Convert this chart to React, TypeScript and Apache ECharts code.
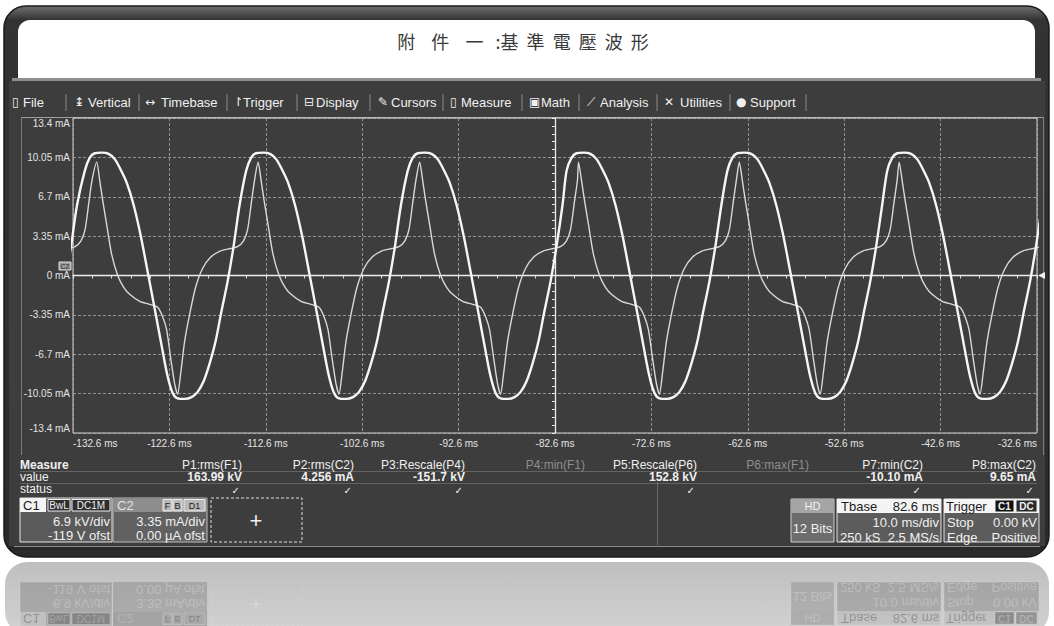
import React, { useEffect, useRef } from "react";
import * as echarts from "echarts";

// ---------------- data ----------------
const titleText = "附    件    一   :基  準  電  壓  波  形";

const xTickLabels = [
  "-132.6 ms", "-122.6 ms", "-112.6 ms", "-102.6 ms", "-92.6 ms", "-82.6 ms",
  "-72.6 ms", "-62.6 ms", "-52.6 ms", "-42.6 ms", "-32.6 ms",
];
const yTickLabels = [
  "-13.4 mA", "-10.05 mA", "-6.7 mA", "-3.35 mA", "0 mA", "3.35 mA", "6.7 mA", "10.05 mA", "13.4 mA",
];
const TRIGGER_MS = -82.6; // centre of the screen (Tbase)
const DIV_MS = 10;
const DIV_MA = 3.35;

// times (ms) of the sharp current peaks
const cyclePeakMs = [-147.0, -130.14, -113.4, -96.64, -80.16, -63.48, -46.9];

// thin trace C2: one cycle, offsets (ms) from its peak and values (mA)
const c2OffsetMs = [0, 0.31, 0.62, 1.04, 1.55, 2.18, 2.8, 3.42, 4.46, 5.49, 6.32, 6.84, 7.25, 7.67, 8.08, 8.39, 8.7, 9.12, 9.64, 10.26, 10.98, 11.81, 12.85, 13.89, 14.61, 15.23, 15.65, 16.06, 16.37];
const c2ValueMa = [9.65, 8.1, 6.4, 4.3, 1.8, 0.0, -1.0, -1.6, -2.2, -2.45, -2.7, -3.5, -4.6, -7.0, -9.2, -10.1, -8.4, -5.6, -3.3, -1.0, 0.6, 1.55, 2.1, 2.3, 2.45, 2.95, 3.9, 6.3, 8.1];

// thick trace F1 (on the mA grid): offsets (ms) from the C2 peak and screen values
const f1OffsetMs = [-1.24, -0.73, -0.21, 0.52, 1.24, 1.87, 2.49, 3.11, 3.83, 4.56, 5.29, 6.01, 6.74, 7.36, 7.88, 8.39, 9.12, 9.84, 10.47, 11.09, 11.71, 12.33, 12.95, 13.58, 14.2, 14.82];
const f1ValueMa = [8.9, 10.0, 10.4, 10.45, 10.35, 9.9, 9.0, 7.9, 6.0, 3.4, 0.3, -2.8, -6.0, -8.6, -10.0, -10.45, -10.5, -10.35, -9.9, -9.0, -7.5, -5.6, -3.0, -0.5, 2.5, 6.0];

const menuLabels = ["File", "Vertical", "Timebase", "Trigger", "Display", "Cursors", "Measure", "Math", "Analysis", "Utilities", "Support"];
const menuIcons = ["▯", "↨", "↔", "↾", "⊟", "✎", "▯", "▣", "⟋", "✕", "●"];

const measureHeaders = ["P1:rms(F1)", "P2:rms(C2)", "P3:Rescale(P4)", "P4:min(F1)", "P5:Rescale(P6)", "P6:max(F1)", "P7:min(C2)", "P8:max(C2)"];
const measureValues = ["163.99 kV", "4.256 mA", "-151.7 kV", "", "152.8 kV", "", "-10.10 mA", "9.65 mA"];
const measureActive = [true, true, true, false, true, false, true, true];

const c1Info = ["C1", "BwL", "DC1M", "6.9 kV/div", "-119 V ofst"];
const c2Info = ["C2", "F", "B", "D1", "3.35 mA/div", "0.00 µA ofst"];
const hdInfo = ["HD", "12 Bits"];
const tbaseInfo = ["Tbase", "82.6 ms", "10.0 ms/div", "250 kS", "2.5 MS/s"];
const triggerInfo = ["Trigger", "C1", "DC", "Stop", "0.00 kV", "Edge", "Positive"];

// ---------------- helpers ----------------
const FONT = '"Liberation Sans", Arial, "DejaVu Sans", sans-serif';

function buildTrace(offsets: number[], values: number[]) {
  const pts: number[][] = [];
  cyclePeakMs.forEach((p) => {
    offsets.forEach((o, i) => pts.push([p + o - TRIGGER_MS, values[i]]));
  });
  return pts;
}

function txt(text: string, x: number, y: number, o: any = {}) {
  return {
    type: "text", x, y, z: o.z ?? 10, silent: true,
    style: {
      text, fill: o.fill ?? "#f0f0f0", fontSize: o.size ?? 12, fontFamily: o.family ?? FONT,
      fontWeight: o.bold ? "bold" : "normal", textAlign: o.align ?? "left",
      textVerticalAlign: "middle", opacity: o.opacity ?? 1,
    },
  };
}
function box(x: number, y: number, w: number, h: number, o: any = {}) {
  return {
    type: "rect", z: o.z ?? 10, silent: true,
    shape: { x, y, width: w, height: h, r: o.r ?? 0 },
    style: {
      fill: o.fill ?? "none", stroke: o.stroke ?? "none", lineWidth: o.lw ?? 1,
      lineDash: o.dash, opacity: o.opacity ?? 1,
    },
  };
}
function seg(x1: number, y1: number, x2: number, y2: number, o: any = {}) {
  return {
    type: "line", z: o.z ?? 10, silent: true,
    shape: { x1, y1, x2, y2 },
    style: { stroke: o.stroke ?? "#888", lineWidth: o.lw ?? 1, opacity: o.opacity ?? 1, lineDash: o.dash },
  };
}

function bottomPanel(a: number, z: number, textFill = "#f0f0f0") {
  const o = (e: any = {}) => ({ opacity: a, z, fill: textFill, ...e });
  const dark = "#1c1c1c";
  return [
    // C1 box
    box(20, 498, 92, 44, o({ fill: "#5a5a5a", stroke: "#e6e6e6" })),
    box(20, 498, 26, 14, o({ fill: "#f4f4f4" })),
    txt(c1Info[0], 23, 505.5, o({ fill: dark, size: 13 })),
    box(48, 499.5, 22, 11.5, o({ fill: "#2e2e2e", stroke: "#f0f0f0" })),
    txt(c1Info[1], 59, 505.5, o({ size: 10, align: "center" })),
    box(72, 499.5, 38, 11.5, o({ fill: "#2e2e2e", stroke: "#f0f0f0" })),
    txt(c1Info[2], 91, 505.5, o({ size: 10, align: "center" })),
    txt(c1Info[3], 110, 521, o({ size: 13, align: "right" })),
    txt(c1Info[4], 110, 535, o({ size: 13, align: "right" })),
    // C2 box
    box(113, 498, 94, 44, o({ fill: "#616161", stroke: "#bdbdbd" })),
    box(113, 498, 94, 14, o({ fill: "#8d8d8d" })),
    txt(c2Info[0], 117, 505.5, o({ fill: "#e2e2e2", size: 13 })),
    box(163, 499.5, 9, 11.5, o({ fill: "#b8b8b8", stroke: "#eeeeee" })),
    txt(c2Info[1], 167.5, 505.5, o({ size: 9, align: "center", fill: dark })),
    box(173, 499.5, 9, 11.5, o({ fill: "#b8b8b8", stroke: "#eeeeee" })),
    txt(c2Info[2], 177.5, 505.5, o({ size: 9, align: "center", fill: dark })),
    box(184, 499.5, 21, 11.5, o({ fill: "#b8b8b8", stroke: "#eeeeee" })),
    txt(c2Info[3], 194.5, 505.5, o({ size: 9, align: "center", fill: dark })),
    txt(c2Info[4], 205, 521, o({ size: 13, align: "right" })),
    txt(c2Info[5], 205, 535, o({ size: 13, align: "right" })),
    // add box
    box(211, 498, 91, 44, o({ fill: "none", stroke: "#e0e0e0", dash: [3, 2] })),
    txt("+", 256, 520, o({ size: 22, align: "center" })),
    // HD
    box(791, 499, 43, 43, o({ fill: "#6c6c6c", stroke: "#cfcfcf" })),
    box(791, 499, 43, 14, o({ fill: "#a5a5a5" })),
    txt(hdInfo[0], 812.5, 506, o({ size: 11, align: "center" })),
    txt(hdInfo[1], 812.5, 528, o({ size: 13, align: "center" })),
    // Tbase
    box(837, 499, 104, 43, o({ fill: "#5c5c5c", stroke: "#e6e6e6" })),
    box(837, 499, 104, 14, o({ fill: "#f4f4f4" })),
    txt(tbaseInfo[0], 841, 506, o({ size: 13, fill: dark })),
    txt(tbaseInfo[1], 939, 506, o({ size: 13, fill: dark, align: "right" })),
    txt(tbaseInfo[2], 939, 522, o({ size: 13, align: "right" })),
    txt(tbaseInfo[3], 840, 537, o({ size: 13 })),
    txt(tbaseInfo[4], 939, 537, o({ size: 13, align: "right" })),
    // Trigger
    box(944, 499, 95, 43, o({ fill: "#5c5c5c", stroke: "#e6e6e6" })),
    box(944, 499, 95, 14, o({ fill: "#f4f4f4" })),
    txt(triggerInfo[0], 946, 506, o({ size: 13, fill: dark })),
    box(995, 500, 19, 12, o({ fill: "#111111", stroke: "#eeeeee" })),
    txt(triggerInfo[1], 1004.5, 506, o({ size: 10, bold: true, align: "center" })),
    box(1016, 500, 21, 12, o({ fill: "#2a2a2a", stroke: "#eeeeee" })),
    txt(triggerInfo[2], 1026.5, 506, o({ size: 10, bold: true, align: "center" })),
    txt(triggerInfo[3], 947, 522, o({ size: 13 })),
    txt(triggerInfo[4], 1037, 522, o({ size: 13, align: "right" })),
    txt(triggerInfo[5], 947, 537, o({ size: 13 })),
    txt(triggerInfo[6], 1037, 537, o({ size: 13, align: "right" })),
  ];
}

function buildGraphic() {
  const els: any[] = [];
  // frame
  els.push(box(4, 6, 1045, 551, {
    r: 22, z: -20, stroke: "#1a1a1a", lw: 1.5,
    fill: { type: "linear", x: 0, y: 0, x2: 0, y2: 1, colorStops: [
      { offset: 0, color: "#707070" }, { offset: 0.025, color: "#333333" }, { offset: 1, color: "#2a2a2a" },
    ] },
  }));
  els.push(box(18, 20, 1017, 59, { r: [12, 12, 0, 0], z: -19, fill: "#ffffff" }));
  els.push(box(12, 78, 1029, 3, { z: -19, fill: "#8f8f8f" }));
  els.push(box(9, 81, 1036, 465, { z: -19, fill: "#3d3d3d" }));
  els.push(seg(14, 546.5, 1040, 546.5, { z: -18, stroke: "#8a8a8a" }));
  // reflection
  els.push(box(5, 562, 1044, 72, {
    r: 22, z: -20,
    fill: { type: "linear", x: 0, y: 0, x2: 0, y2: 1, colorStops: [
      { offset: 0, color: "#bfbfbf" }, { offset: 1, color: "#d2d2d2" },
    ] },
  }));
  els.push({ type: "group", x: 0, y: 1124, scaleY: -1, children: bottomPanel(0.3, -15) });
  // title
  els.push(txt(titleText, 523, 41, { size: 18, fill: "#3a3a3a", align: "center", family: '"Noto Sans CJK TC", "Noto Sans CJK SC", sans-serif' }));
  // menu bar
  const iconX = [12, 74, 145, 233, 304, 378, 450, 529, 587, 664, 736];
  const textX = [23, 88, 161, 243, 316, 391, 461, 541, 600, 680, 750];
  const sepX = [66, 139, 227, 297, 370, 443, 522, 579, 657, 730, 806];
  menuLabels.forEach((m, i) => {
    els.push(txt(menuIcons[i], iconX[i], 102, { size: 12, family: '"DejaVu Sans", sans-serif' }));
    els.push(txt(m, textX[i], 102, { size: 13 }));
    els.push(seg(sepX[i], 94, sepX[i], 111, { stroke: "#8a8a8a" }));
  });
  // screen panel borders
  els.push(seg(21, 117.5, 1043, 117.5, { stroke: "#a0a0a0", z: -5 }));
  els.push(seg(21.5, 117, 21.5, 455, { stroke: "#7a7a7a", z: -5 }));
  els.push(seg(1043.5, 117, 1043.5, 455, { stroke: "#7a7a7a", z: -5 }));
  // channel marker and trigger marker
  els.push(box(59, 262, 12, 8, { fill: "#9c9c9c", stroke: "#dddddd" }));
  els.push(txt("C2", 65, 266, { size: 7, align: "center", fill: "#222" }));
  els.push({ type: "polygon", z: 10, silent: true, shape: { points: [[1038, 275.5], [1045, 272], [1045, 279]] }, style: { fill: "#f0f0f0" } });
  // measure table
  els.push(seg(20, 471.5, 1037, 471.5, { stroke: "#8a8a8a", opacity: 0.5 }));
  els.push(seg(20, 483.5, 1037, 483.5, { stroke: "#8a8a8a", opacity: 0.5 }));
  els.push(txt("Measure", 20, 465, { bold: true, size: 12 }));
  els.push(txt("value", 20, 477, { size: 12 }));
  els.push(txt("status", 20, 489, { size: 12 }));
  const colRight = [242, 354, 465, 585, 697, 809, 923, 1036];
  measureHeaders.forEach((h, i) => {
    const on = measureActive[i];
    els.push(txt(h, colRight[i], 465, { size: 12, align: "right", fill: on ? "#f0f0f0" : "#8e8e8e" }));
    if (measureValues[i]) els.push(txt(measureValues[i], colRight[i], 477, { size: 12, bold: true, align: "right" }));
    if (on) els.push(txt("✓", colRight[i] - 2, 490, { size: 10, align: "right", family: '"DejaVu Sans", sans-serif' }));
  });
  els.push(seg(657.5, 482, 657.5, 545, { stroke: "#9a9a9a", opacity: 0.5 }));
  // bottom info panel
  bottomPanel(1, 10).forEach((e) => els.push(e));
  return els;
}

function buildOption() {
  const gridLine = { show: true, lineStyle: { color: "#adadad", width: 1, type: [3, 2] as any, opacity: 0.75 } };
  const label = { color: "#e4e4e4", fontSize: 10, fontFamily: FONT };
  return {
    animation: false,
    backgroundColor: "#ffffff",
    graphic: { elements: buildGraphic() },
    grid: { left: 73, right: 17, top: 118, bottom: 193, show: true, borderColor: "#d2d2d2", borderWidth: 1, backgroundColor: "transparent" },
    xAxis: [
      {
        type: "value", min: -5 * DIV_MS, max: 5 * DIV_MS, interval: DIV_MS,
        axisLine: { show: false, onZero: false }, axisTick: { show: false },
        axisLabel: { ...label, margin: 5, alignMinLabel: "left", alignMaxLabel: "right", formatter: (v: number) => xTickLabels[Math.round(v / DIV_MS) + 5] },
        splitLine: gridLine,
      },
      {
        type: "value", min: -5 * DIV_MS, max: 5 * DIV_MS, interval: DIV_MS, position: "bottom",
        axisLine: { show: true, onZero: true, lineStyle: { color: "#ececec", width: 1.3 } },
        axisTick: { show: true, length: 3, lineStyle: { color: "#ececec" } },
        minorTick: { show: true, splitNumber: 5, length: 3, lineStyle: { color: "#e0e0e0" } },
        axisLabel: { show: false }, splitLine: { show: false },
      },
    ],
    yAxis: [
      {
        type: "value", min: -4 * DIV_MA, max: 4 * DIV_MA, interval: DIV_MA,
        axisLine: { show: false, onZero: false }, axisTick: { show: false },
        axisLabel: {
          ...label, margin: 3, verticalAlignMinLabel: "bottom", verticalAlignMaxLabel: "top",
          formatter: (v: number) => yTickLabels[Math.round(v / DIV_MA) + 4],
        },
        splitLine: gridLine,
      },
      {
        type: "value", min: -4 * DIV_MA, max: 4 * DIV_MA, interval: DIV_MA, position: "left",
        axisLine: { show: true, onZero: true, lineStyle: { color: "#ececec", width: 1.3 } },
        axisTick: { show: true, length: 3, lineStyle: { color: "#ececec" } },
        minorTick: { show: true, splitNumber: 5, length: 3, lineStyle: { color: "#e0e0e0" } },
        axisLabel: { show: false }, splitLine: { show: false },
      },
    ],
    series: [
      {
        name: "C2", type: "line", xAxisIndex: 0, yAxisIndex: 0, data: buildTrace(c2OffsetMs, c2ValueMa),
        showSymbol: false, smooth: 0.25, lineStyle: { color: "#d8d8d8", width: 1.4 }, z: 4,
      },
      {
        name: "F1", type: "line", xAxisIndex: 0, yAxisIndex: 0, data: buildTrace(f1OffsetMs, f1ValueMa),
        showSymbol: false, smooth: 0.3, lineStyle: { color: "#f6f6f6", width: 2.4 }, z: 5,
      },
    ],
  };
}

export default function App() {
  const ref = useRef<HTMLDivElement>(null);
  useEffect(() => {
    const chart = echarts.init(ref.current as HTMLDivElement, null, { renderer: "svg" });
    chart.setOption(buildOption() as any);
    return () => chart.dispose();
  }, []);
  return <div ref={ref} style={{ position: "fixed", left: 0, top: 0, width: 1054, height: 626 }} />;
}
